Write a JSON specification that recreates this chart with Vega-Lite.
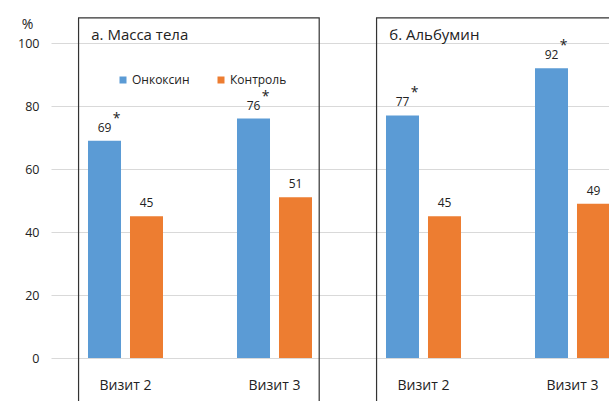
{
  "$schema": "https://vega.github.io/schema/vega-lite/v6.json",
  "width": 558,
  "height": 315,
  "autosize": {"type": "none"},
  "padding": {"left": 51, "top": 43, "right": 0, "bottom": 43},
  "config": {
    "font": "Open Sans",
    "view": {"stroke": null},
    "text": {"font": "Open Sans", "color": "#222"}
  },
  "datasets": {
    "bars": [
      {"cat": "а|Визит 2", "panel": "а. Масса тела", "visit": "Визит 2", "group": "Онкоксин", "value": 69, "sig": "*"},
      {"cat": "а|Визит 2", "panel": "а. Масса тела", "visit": "Визит 2", "group": "Контроль", "value": 45, "sig": ""},
      {"cat": "а|Визит 3", "panel": "а. Масса тела", "visit": "Визит 3", "group": "Онкоксин", "value": 76, "sig": "*"},
      {"cat": "а|Визит 3", "panel": "а. Масса тела", "visit": "Визит 3", "group": "Контроль", "value": 51, "sig": ""},
      {"cat": "б|Визит 2", "panel": "б. Альбумин", "visit": "Визит 2", "group": "Онкоксин", "value": 77, "sig": "*"},
      {"cat": "б|Визит 2", "panel": "б. Альбумин", "visit": "Визит 2", "group": "Контроль", "value": 45, "sig": ""},
      {"cat": "б|Визит 3", "panel": "б. Альбумин", "visit": "Визит 3", "group": "Онкоксин", "value": 92, "sig": "*"},
      {"cat": "б|Визит 3", "panel": "б. Альбумин", "visit": "Визит 3", "group": "Контроль", "value": 49, "sig": ""}
    ],
    "panels": [
      {"panel": "а. Масса тела", "first": "а|Визит 2", "last": "а|Визит 3"},
      {"panel": "б. Альбумин", "first": "б|Визит 2", "last": "б|Визит 3"}
    ]
  },
  "layer": [
    {
      "data": {"name": "bars"},
      "mark": {"type": "bar"},
      "encoding": {
        "x": {
          "field": "cat", "type": "nominal", "title": null,
          "scale": {"domain": ["а|Визит 2", "а|Визит 3", "б|Визит 2", "б|Визит 3"], "range": [0, 596], "paddingInner": 0, "paddingOuter": 0},
          "axis": {"labelExpr": "split(datum.label, '|')[1]", "labelAngle": 0, "domain": false, "ticks": false, "tickSize": 0, "labelPadding": 31, "labelBaseline": "alphabetic", "labelFontSize": 14, "labelColor": "#222", "labelFont": "Open Sans"}
        },
        "xOffset": {
          "field": "group", "type": "nominal",
          "scale": {"domain": ["Онкоксин", "Контроль"], "paddingInner": 0.214, "paddingOuter": 0.881}
        },
        "y": {
          "field": "value", "type": "quantitative", "title": "%",
          "scale": {"domain": [0, 100], "nice": false, "zero": true},
          "axis": {"values": [0, 20, 40, 60, 80, 100], "domain": false, "ticks": false, "tickSize": 0, "labelPadding": 12, "labelFontSize": 12.5, "labelColor": "#222", "labelFont": "Open Sans", "gridColor": "#d9d9d9", "gridWidth": 1, "titleAngle": 0, "titleX": -24, "titleY": -15, "titleAlign": "center", "titleBaseline": "alphabetic", "titleFontSize": 14, "titleFontWeight": "normal", "titleColor": "#222", "titleFont": "Open Sans"}
        },
        "color": {
          "field": "group", "type": "nominal",
          "scale": {"domain": ["Онкоксин", "Контроль"], "range": ["#5B9BD5", "#ED7D31"]},
          "legend": {"title": null, "orient": "none", "legendX": 66, "legendY": 31, "direction": "horizontal", "symbolType": "square", "symbolSize": 49, "symbolStrokeWidth": 0, "labelFontSize": 12, "labelColor": "#222", "labelFont": "Open Sans", "labelOffset": 3, "columnPadding": 25, "padding": 0}
        }
      }
    },
    {
      "data": {"name": "bars"},
      "mark": {"type": "text", "baseline": "alphabetic", "dy": -9, "fontSize": 12},
      "encoding": {
        "x": {"field": "cat", "type": "nominal", "title": null},
        "xOffset": {"field": "group", "type": "nominal"},
        "y": {"field": "value", "type": "quantitative", "title": "%"},
        "text": {"field": "value", "type": "quantitative"}
      }
    },
    {
      "data": {"name": "bars"},
      "mark": {"type": "text", "baseline": "alphabetic", "dy": -18, "dx": 12, "fontSize": 14},
      "encoding": {
        "x": {"field": "cat", "type": "nominal", "title": null},
        "xOffset": {"field": "group", "type": "nominal"},
        "y": {"field": "value", "type": "quantitative", "title": "%"},
        "text": {"field": "sig", "type": "nominal"}
      }
    },
    {
      "data": {"name": "panels"},
      "mark": {"type": "rect", "fill": null, "fillOpacity": 0, "stroke": "#333", "strokeWidth": 1.2},
      "encoding": {
        "x": {"field": "first", "type": "nominal", "title": null, "bandPosition": 0.185},
        "x2": {"field": "last", "bandPosition": 0.8},
        "y": {"datum": 108},
        "y2": {"datum": -20}
      }
    },
    {
      "data": {"name": "panels"},
      "mark": {"type": "text", "align": "left", "baseline": "alphabetic", "fontSize": 15},
      "encoding": {
        "x": {"field": "first", "type": "nominal", "title": null, "bandPosition": 0.27},
        "y": {"datum": 101},
        "text": {"field": "panel", "type": "nominal"}
      }
    }
  ]
}
